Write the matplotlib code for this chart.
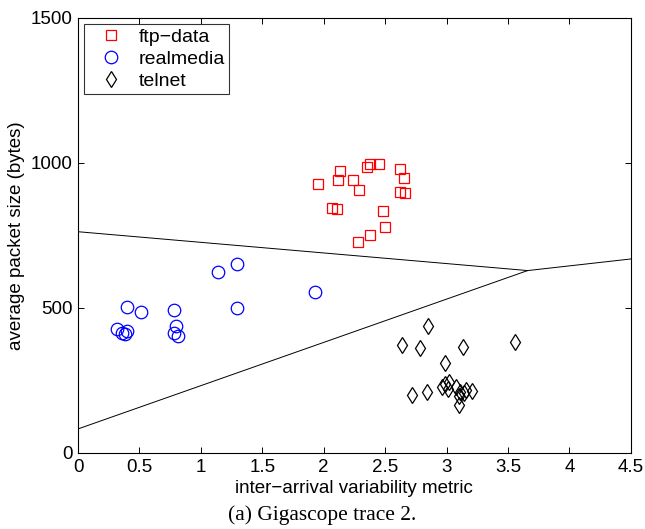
import matplotlib
matplotlib.use('Agg')
import matplotlib.pyplot as plt

# ftp-data (red squares)
ftp_x = [1.95, 2.13, 2.12, 2.24, 2.29, 2.35, 2.38, 2.45, 2.62, 2.65, 2.62, 2.66,
         2.07, 2.11, 2.48, 2.50, 2.38, 2.28]
ftp_y = [926, 971, 940, 941, 906, 986, 997, 996, 979, 949, 899, 896,
         846, 840, 835, 778, 752, 729]

# realmedia (blue circles)
rm_x = [0.40, 0.51, 0.32, 0.36, 0.38, 0.40, 0.78, 0.80, 0.78, 0.81, 1.14, 1.29, 1.29, 1.93]
rm_y = [505, 485, 427, 415, 410, 421, 492, 439, 413, 403, 623, 652, 500, 556]

# telnet (black diamonds)
tel_x = [2.85, 2.64, 2.78, 3.13, 3.56, 2.99, 2.72, 2.84,
         2.96, 2.99, 3.02, 3.01, 3.08, 3.11, 3.14, 3.16, 3.21, 3.10, 3.10]
tel_y = [438, 371, 362, 366, 383, 310, 199, 211,
         229, 238, 246, 220, 227, 211, 206, 217, 213, 165, 197]

# decision boundaries
bound1_x = [0, 3.66]
bound1_y = [763, 629]
bound2_x = [0, 3.66]
bound2_y = [83, 629]
bound3_x = [3.66, 4.5]
bound3_y = [629, 669]

plt.rcParams['font.family'] = ['Liberation Sans', 'DejaVu Sans']

fig = plt.figure(figsize=(6.45, 5.29), dpi=100)
ax = fig.add_axes([0.121, 0.1437, 0.857, 0.8223])

ax.plot(ftp_x, ftp_y, 's', mfc='none', mec='red', ms=7.5, mew=0.9, label='ftp\u2212data')
ax.plot(rm_x, rm_y, 'o', mfc='none', mec='blue', ms=9, mew=0.9, label='realmedia')
ax.plot(tel_x, tel_y, 'd', mfc='none', mec='black', ms=8.3, mew=0.9, label='telnet')

for bx, by in [(bound1_x, bound1_y), (bound2_x, bound2_y), (bound3_x, bound3_y)]:
    ax.plot(bx, by, '-', color='black', lw=0.7)

ax.set_xlim(0, 4.5)
ax.set_ylim(0, 1500)
ax.set_xticks([0, 0.5, 1, 1.5, 2, 2.5, 3, 3.5, 4, 4.5])
ax.set_xticklabels(['0', '0.5', '1', '1.5', '2', '2.5', '3', '3.5', '4', '4.5'])
ax.set_yticks([0, 500, 1000, 1500])
ax.tick_params(direction='in', top=True, right=True, labelsize=13.5, length=4, width=0.7, pad=4)
for s in ax.spines.values():
    s.set_linewidth(0.8)

ax.set_xlabel('inter\u2212arrival variability metric', fontsize=13.5, labelpad=3)
ax.set_ylabel('average packet size (bytes)', fontsize=13.5, labelpad=4)

leg = ax.legend(loc='upper left', fontsize=14, frameon=True, fancybox=False,
                borderaxespad=0.3, handletextpad=0.2, borderpad=0.22, labelspacing=0.23,
                handlelength=2.4)
leg.get_frame().set_edgecolor('black')
leg.get_frame().set_linewidth(0.8)

fig.text(0.5, 0.008, '(a) Gigascope trace 2.', ha='center', va='bottom',
         fontsize=15.4, family='Liberation Serif')

fig.savefig('out.png', dpi=100)
